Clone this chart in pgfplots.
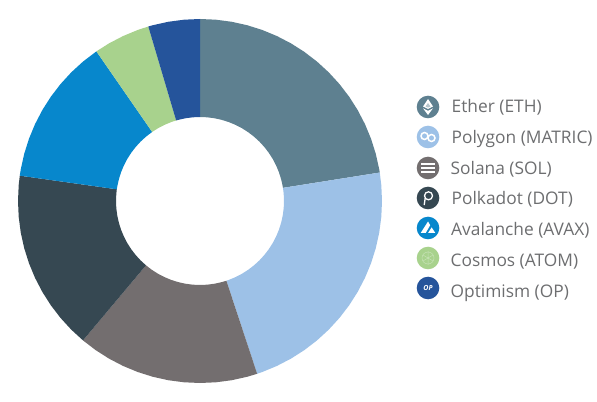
\documentclass[border=0pt]{standalone}
\usepackage{fontspec}
\setmainfont{Open Sans}
\usepackage{pgfplots}
\pgfplotsset{compat=1.18}

\definecolor{eth}{HTML}{5E8090}
\definecolor{matic}{HTML}{9DC1E7}
\definecolor{sol}{HTML}{736E6F}
\definecolor{dot}{HTML}{364852}
\definecolor{avax}{HTML}{0787CC}
\definecolor{atom}{HTML}{A8D28D}
\definecolor{op}{HTML}{25549B}
\definecolor{labelgray}{HTML}{6D6E70}
\colorlet{ethlight}{eth!45!white}
\colorlet{atomlight}{atom!65!white}

% small helpers for the legend icons, all sizes in bp
\newcommand{\icpt}[2]{\pgfpoint{#1bp}{#2bp}}
\newcommand{\iconbg}[1]{\pgfsetfillcolor{#1}\pgfpathcircle{\pgfpointorigin}{11.3bp}\pgfusepath{fill}}
\newcommand{\icring}[4]{\pgfsetstrokecolor{#4}\pgfsetlinewidth{#3bp}\pgfpathcircle{#1}{#2bp}\pgfusepath{stroke}}
\newcommand{\ickite}[4]{\pgfpathmoveto{\icpt{0}{#1}}\pgfpathlineto{\icpt{#4}{#2}}\pgfpathlineto{\icpt{0}{#3}}\pgfpathlineto{\icpt{-#4}{#2}}\pgfpathclose\pgfusepath{fill}}
\newcommand{\icstripe}[2]{\pgfpathrectangle{\icpt{-7}{#1}}{\icpt{14}{#2}}\pgfusepath{fill}}

\pgfdeclareplotmark{ethicon}{
  \iconbg{eth}
  \pgfsetfillcolor{white}
  \ickite{8}{0.5}{-2}{5}
  \ickite{-3.8}{-1.3}{-8}{5}
  \pgfsetfillcolor{ethlight}
  \ickite{4}{0.5}{-0.6}{2.5}
}
\pgfdeclareplotmark{maticicon}{
  \iconbg{matic}
  \icring{\icpt{-3.5}{1}}{3.5}{1.5}{white}
  \icring{\icpt{3.5}{-1}}{3.5}{1.5}{white}
}
\pgfdeclareplotmark{solicon}{
  \iconbg{sol}
  \pgfsetfillcolor{white}
  \icstripe{3.2}{2.2}
  \icstripe{-1.1}{2.2}
  \icstripe{-5.4}{2.2}
}
\pgfdeclareplotmark{doticon}{
  \iconbg{dot}
  \icring{\icpt{0.5}{2.2}}{4}{1.3}{white}
  \pgfpathmoveto{\icpt{-2.8}{0}}\pgfpathlineto{\icpt{-3.8}{-7}}\pgfusepath{stroke}
}
\pgfdeclareplotmark{avaxicon}{
  \iconbg{avax}
  \pgfsetfillcolor{white}
  \pgfpathmoveto{\icpt{0}{6.5}}\pgfpathlineto{\icpt{2.2}{2.8}}\pgfpathlineto{\icpt{-2.2}{-4.8}}\pgfpathlineto{\icpt{-7.2}{-4.8}}\pgfpathclose\pgfusepath{fill}
  \pgfpathmoveto{\icpt{3.6}{0.6}}\pgfpathlineto{\icpt{7.2}{-4.8}}\pgfpathlineto{\icpt{0.2}{-4.8}}\pgfpathclose\pgfusepath{fill}
}
\pgfdeclareplotmark{atomicon}{
  \iconbg{atom}
  \icring{\pgfpointorigin}{6}{0.5}{atomlight}
  \pgfpathmoveto{\icpt{-5}{-3}}\pgfpathlineto{\icpt{5}{3}}
  \pgfpathmoveto{\icpt{-5}{3}}\pgfpathlineto{\icpt{5}{-3}}
  \pgfpathmoveto{\icpt{0}{-7}}\pgfpathlineto{\icpt{0}{7}}\pgfusepath{stroke}
}
\pgfdeclareplotmark{opicon}{
  \iconbg{op}
  \pgftext[at=\pgfpointorigin]{\color{white}\fontsize{7}{7}\selectfont\bfseries\itshape OP}
}

\begin{document}
\begin{tikzpicture}
\begin{axis}[
    width=597bp, height=402bp,
    scale only axis,
    hide axis,
    clip=false,
    xmin=-200, xmax=397,
    ymin=-201, ymax=201,
]
% ring segments, angle in degrees and radius (182 outside, 84 inside)
\addplot[fill=eth,draw=none,data cs=polar] coordinates {
  (90,182)(85,182)(80,182)(75,182)(70,182)(65,182)(60,182)(55,182)(50,182)(45,182)(40,182)(35,182)(30,182)(25,182)(20,182)(15,182)(10,182)(9,182)
  (9,84)(10,84)(15,84)(20,84)(25,84)(30,84)(35,84)(40,84)(45,84)(50,84)(55,84)(60,84)(65,84)(70,84)(75,84)(80,84)(85,84)(90,84)};
\addplot[fill=matic,draw=none,data cs=polar] coordinates {
  (9,182)(5,182)(0,182)(-5,182)(-10,182)(-15,182)(-20,182)(-25,182)(-30,182)(-35,182)(-40,182)(-45,182)(-50,182)(-55,182)(-60,182)(-65,182)(-70,182)(-71.7,182)
  (-71.7,84)(-70,84)(-65,84)(-60,84)(-55,84)(-50,84)(-45,84)(-40,84)(-35,84)(-30,84)(-25,84)(-20,84)(-15,84)(-10,84)(-5,84)(0,84)(5,84)(9,84)};
\addplot[fill=sol,draw=none,data cs=polar] coordinates {
  (-71.7,182)(-75,182)(-80,182)(-85,182)(-90,182)(-95,182)(-100,182)(-105,182)(-110,182)(-115,182)(-120,182)(-125,182)(-130,182)
  (-130,84)(-125,84)(-120,84)(-115,84)(-110,84)(-105,84)(-100,84)(-95,84)(-90,84)(-85,84)(-80,84)(-75,84)(-71.7,84)};
\addplot[fill=dot,draw=none,data cs=polar] coordinates {
  (-130,182)(-135,182)(-140,182)(-145,182)(-150,182)(-155,182)(-160,182)(-165,182)(-170,182)(-175,182)(-180,182)(-185,182)(-188,182)
  (-188,84)(-185,84)(-180,84)(-175,84)(-170,84)(-165,84)(-160,84)(-155,84)(-150,84)(-145,84)(-140,84)(-135,84)(-130,84)};
\addplot[fill=avax,draw=none,data cs=polar] coordinates {
  (-188,182)(-190,182)(-195,182)(-200,182)(-205,182)(-210,182)(-215,182)(-220,182)(-225,182)(-230,182)(-235.3,182)
  (-235.3,84)(-230,84)(-225,84)(-220,84)(-215,84)(-210,84)(-205,84)(-200,84)(-195,84)(-190,84)(-188,84)};
\addplot[fill=atom,draw=none,data cs=polar] coordinates {
  (-235.3,182)(-240,182)(-245,182)(-250,182)(-253.5,182)
  (-253.5,84)(-250,84)(-245,84)(-240,84)(-235.3,84)};
\addplot[fill=op,draw=none,data cs=polar] coordinates {
  (-253.5,182)(-255,182)(-260,182)(-265,182)(-270,182)
  (-270,84)(-265,84)(-260,84)(-255,84)(-253.5,84)};

% legend icons
\addplot[only marks,mark=ethicon] coordinates {(228,94)};
\addplot[only marks,mark=maticicon] coordinates {(228,64)};
\addplot[only marks,mark=solicon] coordinates {(228,33)};
\addplot[only marks,mark=doticon] coordinates {(228,3)};
\addplot[only marks,mark=avaxicon] coordinates {(228,-27)};
\addplot[only marks,mark=atomicon] coordinates {(228,-57)};
\addplot[only marks,mark=opicon] coordinates {(228,-87)};

% legend labels
\begin{scope}[every node/.style={anchor=base west,inner sep=0pt,text=labelgray,font=\fontsize{17.4}{20}\selectfont}]
\node at (axis cs:251.5,88) {Ether (ETH)};
\node at (axis cs:251.5,57.5) {Polygon (MATRIC)};
\node at (axis cs:250.5,26) {Solana (SOL)};
\node at (axis cs:251.5,-4) {Polkadot (DOT)};
\node at (axis cs:251,-35) {Avalanche (AVAX)};
\node at (axis cs:250.5,-66) {Cosmos (ATOM)};
\node at (axis cs:250.5,-97) {Optimism (OP)};
\end{scope}
\end{axis}
\pgfresetboundingbox
\path[use as bounding box] (current axis.south west) rectangle (current axis.north east);
\end{tikzpicture}
\end{document}
